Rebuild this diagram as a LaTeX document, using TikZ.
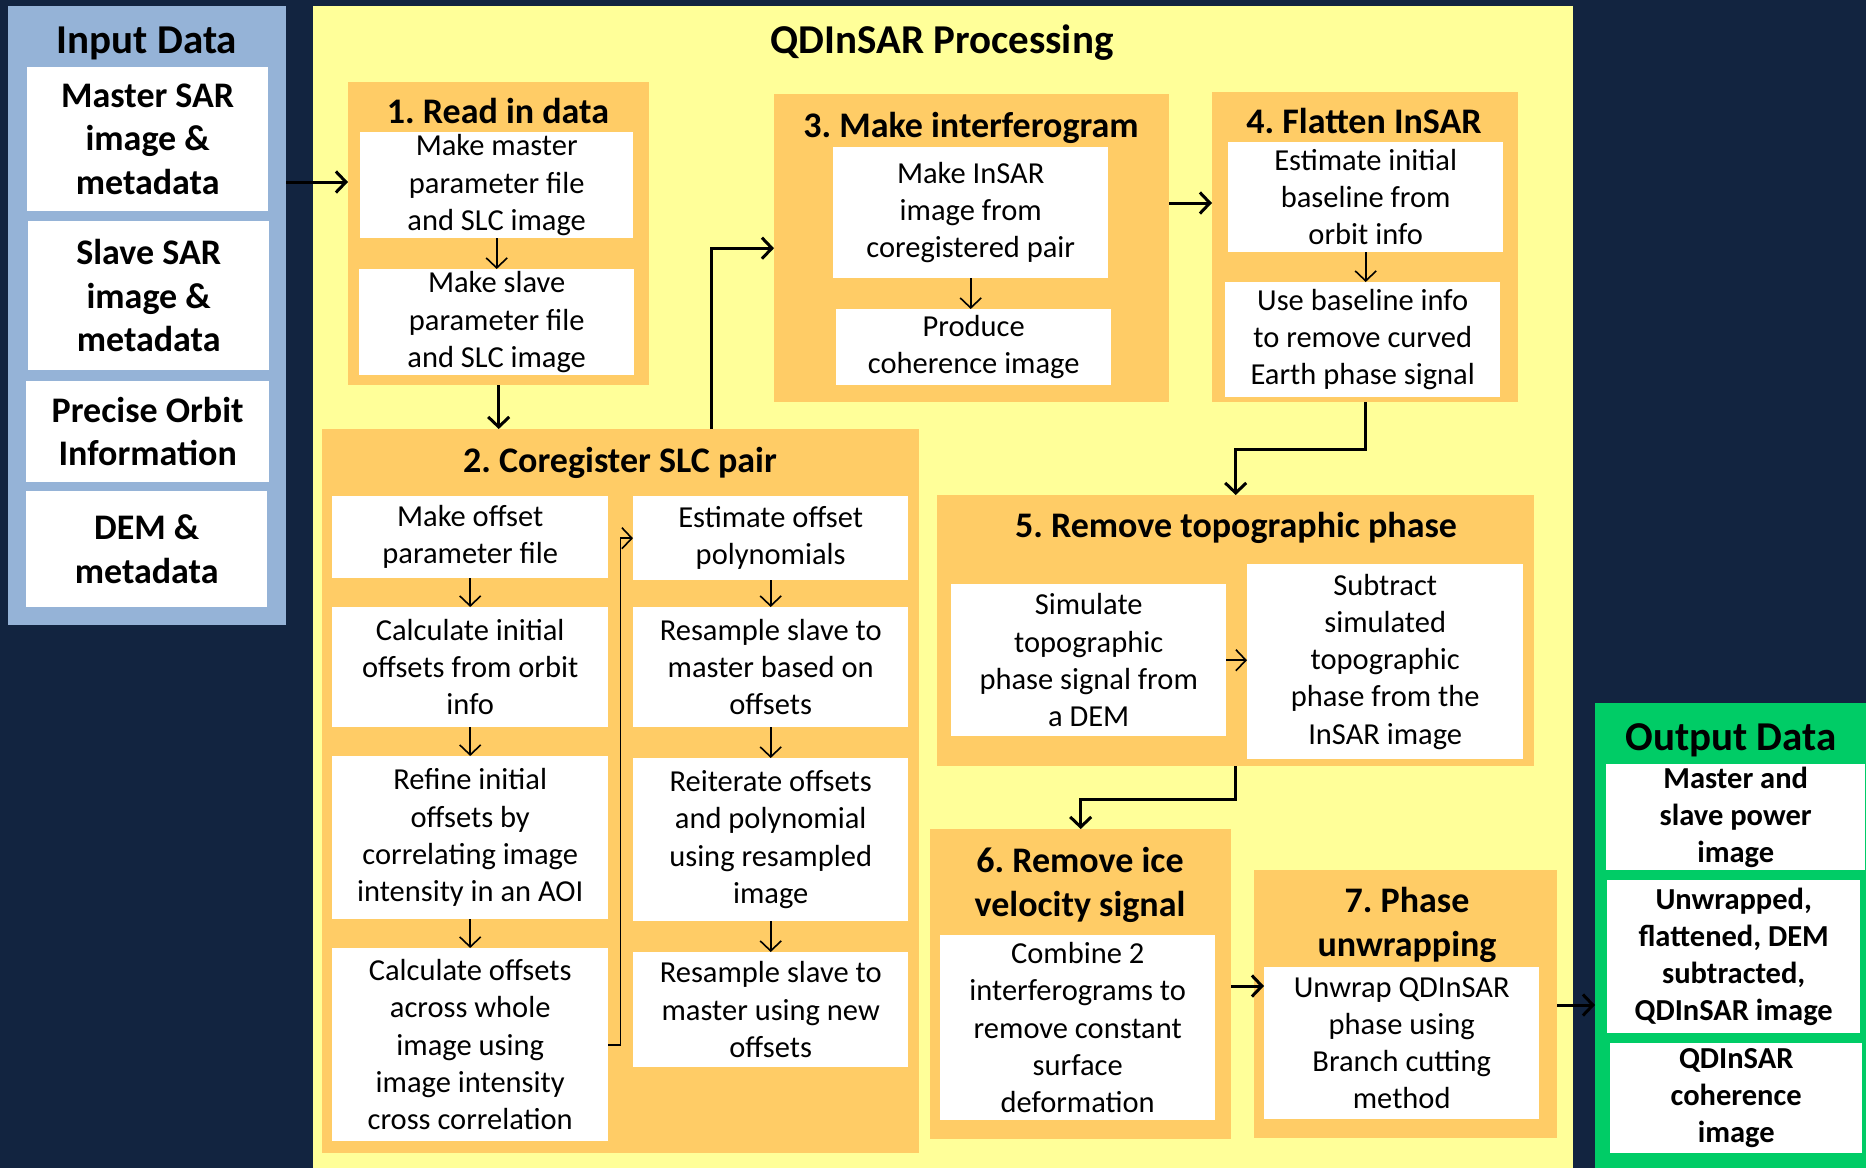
\documentclass[tikz,border=0pt]{standalone}
\usepackage{fontspec}
\setmainfont{Carlito}
\usetikzlibrary{arrows.meta}
\frenchspacing

\definecolor{navybg}{RGB}{18,36,64}
\definecolor{inblue}{RGB}{149,179,215}
\definecolor{procyellow}{RGB}{255,255,153}
\definecolor{steporange}{RGB}{255,204,102}
\definecolor{outgreen}{RGB}{0,204,102}

\newcommand{\qdbody}{\fontsize{30.5}{37.3}\selectfont}
\newcommand{\qdtitle}{\fontsize{36}{44}\selectfont\bfseries}
\newcommand{\qdhead}{\fontsize{41}{49}\selectfont\bfseries}
\newcommand{\qdin}{\fontsize{36}{43.5}\selectfont\bfseries}
\newcommand{\qdout}{\fontsize{30.5}{37}\selectfont\bfseries}

\begin{document}
\begin{tikzpicture}[x=1pt, y=-1pt,
    panel/.style={inner sep=0pt, anchor=north west},
    wbox/.style={fill=white, inner sep=0pt, anchor=north west, align=center, font=\qdbody},
    ptitle/.style={anchor=base, align=center, inner sep=0pt, font=\qdtitle},
    bigarrow/.style={line width=3pt, -{Straight Barb[length=10pt,width=21pt]}},
    smallarrow/.style={line width=1.6pt, -{Straight Barb[length=10pt,width=21pt]}}]

  \useasboundingbox (0,0) rectangle (1866,1168);
  \fill[navybg] (0,0) rectangle (1866,1168);

  % input data
  \node[panel, fill=inblue, minimum width=278pt, minimum height=619pt] (inpanel) at (8,6) {};
  \node[anchor=base, font=\qdhead] (intitle) at (147,53) {Input Data};
  \node[wbox, font=\qdin, minimum width=241pt, minimum height=144pt] (in1) at (27,67) {Master SAR\\image \&\\metadata};
  \node[wbox, font=\qdin, minimum width=241pt, minimum height=149pt] (in2) at (28,221) {Slave SAR\\image \&\\metadata};
  \node[wbox, font=\qdin, minimum width=243pt, minimum height=101pt] (in3) at (26,381) {Precise Orbit\\Information};
  \node[wbox, font=\qdin, minimum width=241pt, minimum height=116pt] (in4) at (26,491) {DEM \&\\metadata};

  % processing
  \node[panel, fill=procyellow, minimum width=1260pt, minimum height=1162pt] (proc) at (313,6) {};
  \node[anchor=base, font=\qdhead] (proctitle) at (942,53) {QDInSAR Processing};

  % 1
  \node[panel, fill=steporange, minimum width=301pt, minimum height=303pt] (p1) at (348,82) {};
  \node[ptitle] (p1t) at (498,123) {1. Read in data};
  \node[wbox, minimum width=273pt, minimum height=106pt] (p1a) at (360,132) {Make master\\parameter file\\and SLC image};
  \node[wbox, minimum width=275pt, minimum height=106pt] (p1b) at (359,269) {Make slave\\parameter file\\and SLC image};

  % 2
  \node[panel, fill=steporange, minimum width=597pt, minimum height=724pt] (p2) at (322,429) {};
  \node[ptitle] (p2t) at (620,472) {2. Coregister SLC pair};
  \node[wbox, minimum width=276pt, minimum height=82pt] (c1) at (332,496) {Make offset\\parameter file};
  \node[wbox, minimum width=276pt, minimum height=120pt] (c2) at (332,607) {Calculate initial\\offsets from orbit\\info};
  \node[wbox, minimum width=276pt, minimum height=163pt] (c3) at (332,756) {Refine initial\\offsets by\\correlating image\\intensity in an AOI};
  \node[wbox, minimum width=276pt, minimum height=193pt] (c4) at (332,948) {Calculate offsets\\across whole\\image using\\image intensity\\cross correlation};
  \node[wbox, minimum width=275pt, minimum height=84pt] (c5) at (633,496) {Estimate offset\\polynomials};
  \node[wbox, minimum width=275pt, minimum height=120pt] (c6) at (633,607) {Resample slave to\\master based on\\offsets};
  \node[wbox, minimum width=275pt, minimum height=163pt] (c7) at (633,758) {Reiterate offsets\\and polynomial\\using resampled\\image};
  \node[wbox, minimum width=275pt, minimum height=115pt] (c8) at (633,952) {Resample slave to\\master using new\\offsets};

  % 3
  \node[panel, fill=steporange, minimum width=395pt, minimum height=308pt] (p3) at (774,94) {};
  \node[ptitle] (p3t) at (971,137) {3. Make interferogram};
  \node[wbox, minimum width=275pt, minimum height=131pt] (m1) at (833,147) {Make InSAR\\image from\\coregistered pair};
  \node[wbox, minimum width=275pt, minimum height=76pt] (m2) at (836,309) {Produce\\coherence image};

  % 4
  \node[panel, fill=steporange, minimum width=306pt, minimum height=310pt] (p4) at (1212,92) {};
  \node[ptitle] (p4t) at (1364,133) {4. Flatten InSAR};
  \node[wbox, minimum width=275pt, minimum height=110pt] (f1) at (1228,142) {Estimate initial\\baseline from\\orbit info};
  \node[wbox, minimum width=275pt, minimum height=115pt] (f2) at (1225,282) {Use baseline info\\to remove curved\\Earth phase signal};

  % 5
  \node[panel, fill=steporange, minimum width=597pt, minimum height=271pt] (p5) at (937,495) {};
  \node[ptitle] (p5t) at (1236,537) {5. Remove topographic phase};
  \node[wbox, minimum width=275pt, minimum height=152pt] (t1) at (951,584) {Simulate\\topographic\\phase signal from\\a DEM};
  \node[wbox, minimum width=276pt, minimum height=195pt] (t2) at (1247,564) {Subtract\\simulated\\topographic\\phase from the\\InSAR image};

  % 6
  \node[panel, fill=steporange, minimum width=301pt, minimum height=310pt] (p6) at (930,829) {};
  \node[ptitle] (p6t) at (1080,916) {6. Remove ice\\velocity signal};
  \node[wbox, minimum width=275pt, minimum height=185pt] (v1) at (940,935) {Combine 2\\interferograms to\\remove constant\\surface\\deformation};

  % 7
  \node[panel, fill=steporange, minimum width=303pt, minimum height=268pt] (p7) at (1254,870) {};
  \node[ptitle] (p7t) at (1407,956) {7. Phase\\unwrapping};
  \node[wbox, minimum width=275pt, minimum height=152pt] (u1) at (1264,967) {Unwrap QDInSAR\\phase using\\Branch cutting\\method};

  % output data
  \node[panel, fill=outgreen, minimum width=271pt, minimum height=465pt] (outpanel) at (1595,703) {};
  \node[anchor=base, font=\qdhead] (outtitle) at (1731,750) {Output Data};
  \node[wbox, font=\qdout, minimum width=259pt, minimum height=106pt] (o1) at (1606,764) {Master and\\slave power\\image};
  \node[wbox, font=\qdout, minimum width=253pt, minimum height=153pt] (o2) at (1607,880) {Unwrapped,\\flattened, DEM\\subtracted,\\QDInSAR image};
  \node[wbox, font=\qdout, minimum width=252pt, minimum height=110pt] (o3) at (1610,1043) {QDInSAR\\coherence\\image};

  % connectors between steps
  \draw[bigarrow] (inpanel.east |- 0,182) -- (p1.west |- 0,182);
  \draw[bigarrow] (p1.south) -- (p2.north -| p1.south);
  \draw[bigarrow] (711,0 |- p2.north) |- (p3.west);
  \draw[bigarrow] (p3.east |- 0,203) -- (p4.west |- 0,203);
  \draw[bigarrow] (p4.south) -- ++(0,47) -| (p5.north);
  \draw[bigarrow] (p5.south) -- ++(0,33) -| (p6.north);
  \draw[bigarrow] (p6.east |- 0,986) -- (u1.west |- 0,986);
  \draw[bigarrow] (p7.east |- 0,1005) -- (outpanel.west |- 0,1005);

  % connectors inside steps
  \draw[smallarrow] (p1a) -- (p1b);
  \draw[smallarrow] (m1.south) -- (m1.south |- m2.north);
  \draw[smallarrow] (f1.south) -- (f1.south |- f2.north);
  \draw[smallarrow] (c1) -- (c2);
  \draw[smallarrow] (c2) -- (c3);
  \draw[smallarrow] (c3) -- (c4);
  \draw[smallarrow] (c4.east) -- ++(12,0) |- (c5.west);
  \draw[smallarrow] (c5.south) -- (c5.south |- c6.north);
  \draw[smallarrow] (c6.south) -- (c6.south |- c7.north);
  \draw[smallarrow] (c7.south) -- (c7.south |- c8.north);
  \draw[smallarrow] (t1.east) -- (t1.east -| t2.west);
\end{tikzpicture}
\end{document}
